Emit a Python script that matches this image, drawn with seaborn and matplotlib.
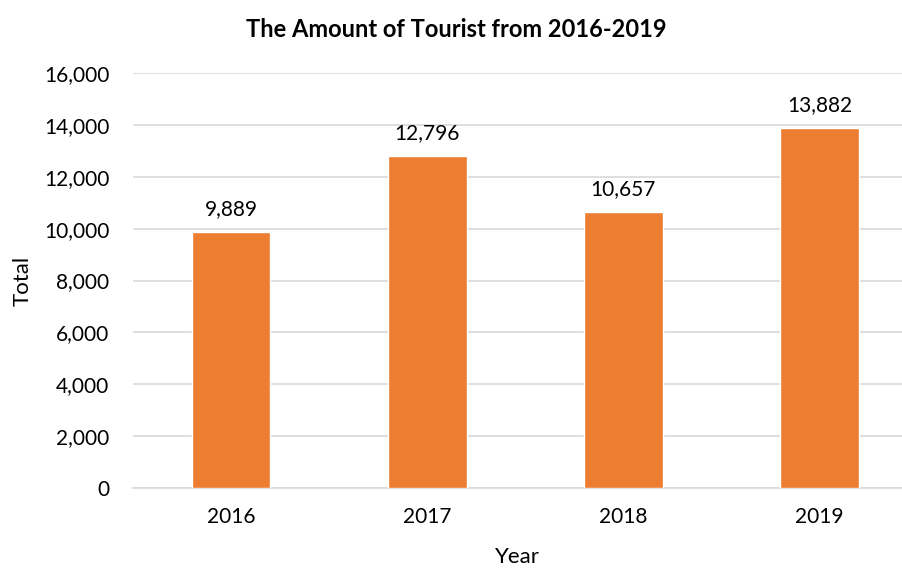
import pandas as pd
import matplotlib.pyplot as plt
import seaborn as sns

# data
years = ['2016', '2017', '2018', '2019']
totals = [9889, 12796, 10657, 13882]
yticks = [0, 2000, 4000, 6000, 8000, 10000, 12000, 14000, 16000]

df = pd.DataFrame({'Year': years, 'Total': totals})

sns.set_style('white')
plt.rcParams['font.family'] = ['Lato', 'DejaVu Sans']
plt.rcParams['text.color'] = 'black'
plt.rcParams['axes.labelcolor'] = 'black'
plt.rcParams['xtick.color'] = 'black'
plt.rcParams['ytick.color'] = 'black'

fig = plt.figure(figsize=(9.02, 5.68), dpi=100)
ax = fig.add_axes([0.1475, 0.141, 0.8525, 0.730])

sns.barplot(data=df, x='Year', y='Total', color='#ED7D31', width=0.40,
            saturation=1, ax=ax, zorder=3)

# value labels above bars
for i, v in enumerate(totals):
    ax.text(i, v + 500, f'{v:,}', ha='center', va='bottom', fontsize=15, color='black')

ax.set_xlim(-0.5, 3.42)
ax.set_ylim(0, 16000)
ax.set_yticks(yticks)
ax.set_yticklabels([f'{t:,}' for t in yticks])
ax.yaxis.grid(True, color='#D9D9D9', linewidth=1.2, zorder=0)
ax.set_axisbelow(True)
for s in ['top', 'right', 'left']:
    ax.spines[s].set_visible(False)
ax.spines['bottom'].set_color('#D9D9D9')
ax.spines['bottom'].set_linewidth(1.2)
ax.tick_params(axis='x', length=0, labelsize=15, pad=14)
ax.tick_params(axis='y', length=0, labelsize=15, pad=17)

ax.set_xlabel('Year', fontsize=16, labelpad=14)
ax.set_ylabel('Total', fontsize=16, labelpad=8)
ax.set_title('The Amount of Tourist from 2016-2019', fontsize=17, fontweight='bold',
             pad=26, x=0.42, color='black')

plt.savefig('out.png', dpi=100)
